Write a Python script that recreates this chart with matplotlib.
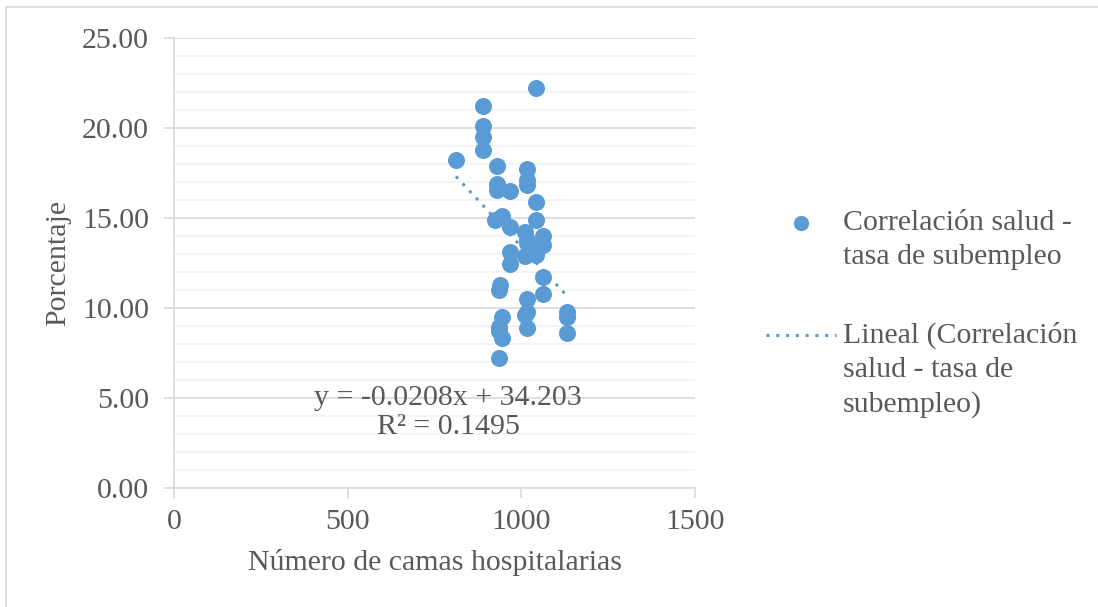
import matplotlib
matplotlib.use("Agg")
import matplotlib.pyplot as plt
import numpy as np
from matplotlib.lines import Line2D
from matplotlib.patches import Rectangle

plt.rcParams['font.family'] = ['Liberation Serif', 'DejaVu Serif']

# camas hospitalarias vs. tasa de subempleo (%)
camas = [812, 890, 890, 890, 890, 930, 930, 930, 967, 1016, 1016, 1016,
         1042, 1042, 944, 924, 967, 1042, 1011, 1016, 1016, 1062, 1062,
         967, 1011, 1042, 967, 1062, 939, 936, 1062, 1016, 1016, 1011,
         1016, 1132, 1132, 1132, 944, 936, 936, 944, 936]
subempleo = [18.2, 21.2, 20.1, 19.5, 18.8, 17.9, 16.9, 16.55, 16.5, 17.7,
             17.1, 16.85, 22.2, 15.9, 15.1, 14.9, 14.5, 14.9, 14.2, 13.8,
             13.6, 14.0, 13.5, 13.1, 12.9, 12.95, 12.45, 11.7, 11.3, 11.0,
             10.8, 10.5, 9.8, 9.6, 8.9, 9.8, 9.5, 8.6, 9.5, 8.95, 8.7,
             8.35, 7.25]

# linea de tendencia (Excel)
pendiente = -0.0208
intercepto = 34.203
r2 = 0.1495

azul = '#5B9BD5'
gris = '#595959'
fs = 21.5

fig = plt.figure(figsize=(10.98, 6.07), dpi=100)
fig.add_artist(Rectangle((6/1098, -0.1), 1.2, 1 - 7/607 + 0.1,
                         transform=fig.transFigure, fill=False,
                         edgecolor='#D9D9D9', lw=1.2))
ax = fig.add_axes([174/1098, 1 - 488/607, 521/1098, 450/607])

ax.set_xlim(0, 1500)
ax.set_ylim(0, 25)
ax.set_xticks([0, 500, 1000, 1500])
ax.set_yticks(np.arange(0, 26, 5))
ax.set_yticks(np.arange(0, 26, 1), minor=True)
ax.set_yticklabels(['%.2f' % v for v in np.arange(0, 26, 5)])
ax.grid(axis='y', which='minor', color='#F2F2F2', lw=1.2)
ax.grid(axis='y', which='major', color='#D9D9D9', lw=1.2)
ax.set_axisbelow(True)
for s in ['top', 'right']:
    ax.spines[s].set_visible(False)
for s in ['left', 'bottom']:
    ax.spines[s].set_color('#D9D9D9')
    ax.spines[s].set_linewidth(1.2)
ax.tick_params(which='major', direction='out', length=7, color='#D9D9D9',
               width=1.2, labelsize=fs, labelcolor=gris, pad=8)
ax.tick_params(axis='y', pad=11)
ax.tick_params(which='minor', length=0)

ax.scatter(camas, subempleo, s=150, color=azul, zorder=3, linewidths=0)

xt = np.array([min(camas), max(camas)])
ax.plot(xt, pendiente * xt + intercepto, color=azul, lw=2.2,
        linestyle=(0, (1, 2.2)), zorder=4)

ax.text(789, 5.0, 'y = %.4fx + %.3f' % (pendiente, intercepto), ha='center',
        va='center', fontsize=fs, color=gris, zorder=5)
ax.text(789, 3.4, 'R² = %.4f' % r2, ha='center', va='center',
        fontsize=fs, color=gris, zorder=5)

ax.set_xlabel('Número de camas hospitalarias', fontsize=fs, color=gris,
              labelpad=10)
ax.set_ylabel('Porcentaje', fontsize=fs, color=gris, labelpad=8)

# leyenda manual
def fx(px):
    return px / 1098

def fy(py):
    return 1 - py / 607

fig.add_artist(Line2D([fx(801)], [fy(223)], marker='o', markersize=11,
                      color=azul, markeredgewidth=0,
                      transform=fig.transFigure))
fig.text(fx(843), fy(210), 'Correlación salud -\ntasa de subempleo',
         fontsize=fs, color=gris, va='top', ha='left', linespacing=1.38,
         transform=fig.transFigure)
fig.add_artist(Line2D([fx(766), fx(836)], [fy(335), fy(335)], color=azul,
                      lw=2.2, linestyle=(0, (1, 2.2)),
                      transform=fig.transFigure))
fig.text(fx(843), fy(322), 'Lineal (Correlación\nsalud - tasa de\nsubempleo)',
         fontsize=fs, color=gris, va='top', ha='left', linespacing=1.38,
         transform=fig.transFigure)

fig.savefig('out.png', dpi=100)
